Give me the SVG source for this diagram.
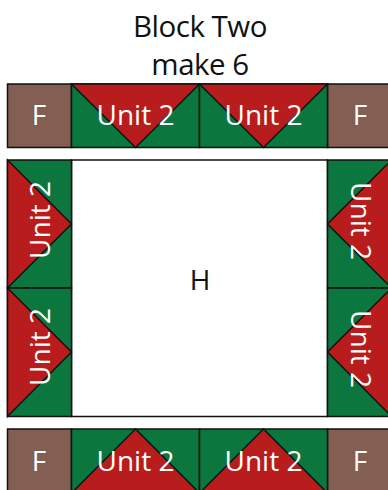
<svg xmlns="http://www.w3.org/2000/svg" width="388" height="490" viewBox="0 0 388 490">
<style>
.g{fill:#0b763d;stroke:#111;stroke-width:1.5}
.r{fill:#b81c1c;stroke:#111;stroke-width:1.5}
.b{fill:#835e52;stroke:#111;stroke-width:1.5}
.w{fill:#fff;stroke:#111;stroke-width:1.5}
text{font-family:"Open Sans","Noto Sans",sans-serif;font-size:28px;text-anchor:middle}
.l{fill:#fff}
.t{fill:#111}
.h{font-size:29.5px}
</style>
<g id="title"><text class="t h" x="200" y="37" letter-spacing="-0.5">Block Two</text><text class="t h" x="200" y="75" letter-spacing="-0.5">make 6</text></g>
<g id="h"><rect class="w" x="71.5" y="160" width="256" height="256.5"/><text class="t" x="200" y="290">H</text></g>
<g id="f1"><rect class="b" x="7.5" y="84" width="64" height="63.5"/><text class="l" x="39" y="125">F</text></g>
<g id="f2"><rect class="b" x="327.5" y="84" width="64" height="63.5"/><text class="l" x="360" y="125">F</text></g>
<g id="f3"><rect class="b" x="7.5" y="429" width="64" height="64"/><text class="l" x="39" y="471">F</text></g>
<g id="f4"><rect class="b" x="327.5" y="429" width="64" height="64"/><text class="l" x="360" y="471">F</text></g>
<g id="u1"><rect class="g" x="71.5" y="84" width="128" height="63.5"/><path class="r" d="M71.5 84H199.5L135.5 147.5Z"/><text class="l" x="135.5" y="125">Unit 2</text></g>
<g id="u2"><rect class="g" x="199.5" y="84" width="128" height="63.5"/><path class="r" d="M199.5 84H327.5L263.5 147.5Z"/><text class="l" x="263.5" y="125">Unit 2</text></g>
<g id="u3"><rect class="g" x="71.5" y="429" width="128" height="64"/><path class="r" d="M71.5 493H199.5L135.5 429Z"/><text class="l" x="135.5" y="471">Unit 2</text></g>
<g id="u4"><rect class="g" x="199.5" y="429" width="128" height="64"/><path class="r" d="M199.5 493H327.5L263.5 429Z"/><text class="l" x="263.5" y="471">Unit 2</text></g>
<g id="u5"><rect class="g" x="7.5" y="160" width="64" height="128"/><path class="r" d="M7.5 160V288L71.5 224Z"/><text class="l" transform="translate(50 220) rotate(-90)">Unit 2</text></g>
<g id="u6"><rect class="g" x="7.5" y="288" width="64" height="128.5"/><path class="r" d="M7.5 288V416.5L71.5 352Z"/><text class="l" transform="translate(50 347) rotate(-90)">Unit 2</text></g>
<g id="u7"><rect class="g" x="327.5" y="160" width="64" height="128"/><path class="r" d="M391.5 160V288L327.5 224Z"/><text class="l" transform="translate(351 221) rotate(90)">Unit 2</text></g>
<g id="u8"><rect class="g" x="327.5" y="288" width="64" height="128.5"/><path class="r" d="M391.5 288V416.5L327.5 352Z"/><text class="l" transform="translate(351 349) rotate(90)">Unit 2</text></g>
<g id="connectors"></g>
</svg>
